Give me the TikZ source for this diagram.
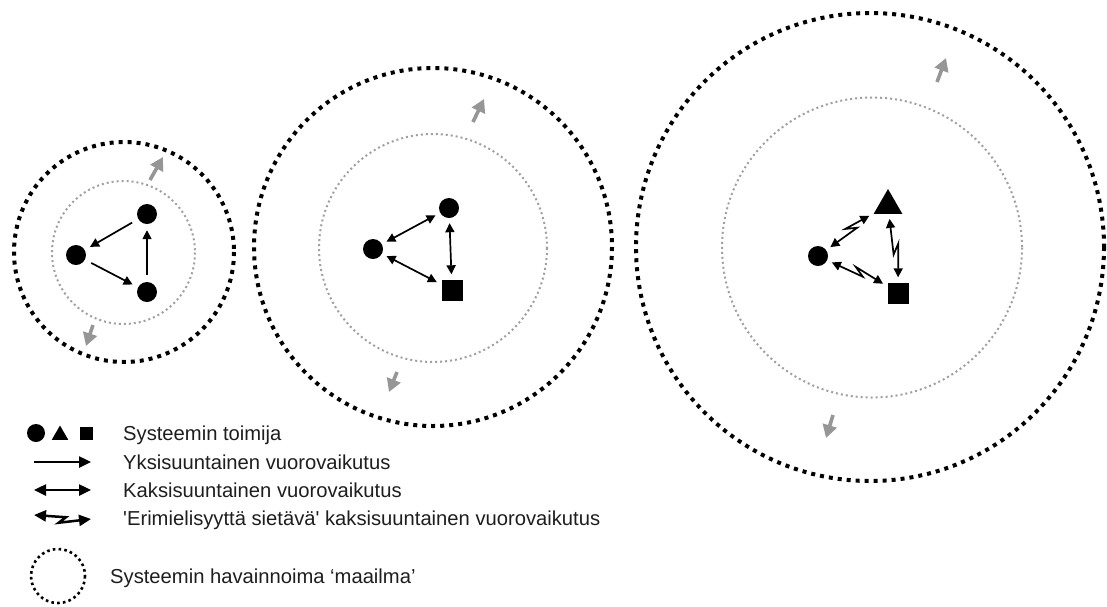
\documentclass[tikz,border=0pt]{standalone}
\usepackage{fontspec}
\setmainfont{Liberation Sans}[Ligatures=TeXOff]
\usetikzlibrary{arrows.meta,shapes.geometric,calc}
\definecolor{ringgray}{RGB}{160,160,160}
\definecolor{arrowgray}{RGB}{150,150,150}
\definecolor{textcol}{RGB}{30,30,30}
\begin{document}
\begin{tikzpicture}[x=1pt,y=-1pt,
  outerring/.style={draw=black, line width=4pt, dash pattern=on 4pt off 5pt},
  innerring/.style={draw=ringgray, line width=2pt, dash pattern=on 2pt off 3pt},
  legring/.style={draw=black, line width=2.6pt, dash pattern=on 2.6pt off 3.2pt},
  actor/.style={circle, fill=black, minimum size=20pt, inner sep=0pt},
  sqactor/.style={rectangle, fill=black, minimum size=21pt, inner sep=0pt},
  triactor/.style={regular polygon, regular polygon sides=3, fill=black, minimum size=33pt, inner sep=0pt},
  one/.style={-{Triangle[length=9pt,width=9pt]}, line width=1.7pt, shorten >=6pt, shorten <=7pt},
  two/.style={{Triangle[length=9pt,width=9pt]}-{Triangle[length=9pt,width=9pt]}, line width=1.7pt, shorten >=5pt, shorten <=5pt},
  zz/.style={to path={-- ($(\tikztostart)!0.56!(\tikztotarget)$) -- ($(\tikztostart)!0.44!(\tikztotarget)!#1!90:(\tikztotarget)$) -- (\tikztotarget) \tikztonodes}},
  growarrow/.style={draw=arrowgray, line width=3.6pt, -{Triangle[length=13pt,width=14pt,fill=arrowgray]}},
  legtext/.style={anchor=base west, text=textcol, font=\fontsize{20.2}{24}\selectfont, inner sep=0pt},
  legone/.style={-{Triangle[length=12pt,width=11pt]}, line width=2.5pt},
  legtwo/.style={{Triangle[length=12pt,width=11pt]}-{Triangle[length=12pt,width=11pt]}, line width=2.5pt}
]
\useasboundingbox (0,0) rectangle (1107,606);
\fill[white] (0,0) rectangle (1107,606);

% ---------- left system ----------
\draw[outerring] (124,252) circle[radius=110];
\draw[innerring] (123.5,252.5) circle[radius=71.5];
\node[actor] (La) at (147,214) {};
\node[actor] (Lb) at (76,255) {};
\node[actor] (Lc) at (147,292) {};
\draw[one] (La) -- (Lb);
\draw[one] (Lb) -- (Lc);
\draw[one] (Lc) -- (La);
\coordinate (Lg1s) at (150,180); \coordinate (Lg1e) at (163,157);
\coordinate (Lg2s) at (93,325);  \coordinate (Lg2e) at (86,346);
\draw[growarrow] (Lg1s) -- (Lg1e);
\draw[growarrow] (Lg2s) -- (Lg2e);

% ---------- middle system ----------
\draw[outerring] (433,247) circle[radius=179];
\draw[innerring] (433,248) circle[radius=114];
\node[actor] (Ma) at (373,249) {};
\node[actor] (Mb) at (449,208) {};
\node[sqactor] (Mc) at (452,290) {};
\draw[two] (Ma) -- (Mb);
\draw[two] (Ma) -- (Mc);
\draw[two] (Mb) -- (Mc);
\coordinate (Mg1s) at (473,122); \coordinate (Mg1e) at (484,99);
\coordinate (Mg2s) at (397,372); \coordinate (Mg2e) at (389,392);
\draw[growarrow] (Mg1s) -- (Mg1e);
\draw[growarrow] (Mg2s) -- (Mg2e);

% ---------- right system ----------
\draw[outerring] (870,247) circle[radius=234];
\draw[innerring] (872,247.5) circle[radius=150];
\node[actor] (Ra) at (818,256) {};
\node[triactor] (Rb) at (888,205.5) {};
\node[sqactor] (Rc) at (898,293) {};
\draw[two] (Ra) to[zz=6pt] (Rb);
\draw[two] (Ra) to[zz=6pt] (Rc);
\draw[two] (Rb) to[zz=6pt] (Rc);
\coordinate (Rg1s) at (937,82);  \coordinate (Rg1e) at (946,58);
\coordinate (Rg2s) at (833,415); \coordinate (Rg2e) at (826,438);
\draw[growarrow] (Rg1s) -- (Rg1e);
\draw[growarrow] (Rg2s) -- (Rg2e);

% ---------- legend ----------
\node[circle, fill=black, minimum size=18pt, inner sep=0pt] (k1) at (36,433) {};
\node[regular polygon, regular polygon sides=3, fill=black, minimum size=19pt, inner sep=0pt] (k2) at (60,435) {};
\node[rectangle, fill=black, minimum size=13pt, inner sep=0pt] (k3) at (86,433.5) {};
\node[legtext] (t1) at (123,440.5) {Systeemin toimija};

\coordinate (a1s) at (34,462); \coordinate (a1e) at (91,462);
\draw[legone] (a1s) -- (a1e);
\node[legtext] (t2) at (123,469) {Yksisuuntainen vuorovaikutus};

\coordinate (a2s) at (34,490); \coordinate (a2e) at (91,490);
\draw[legtwo] (a2s) -- (a2e);
\node[legtext] (t3) at (123,497) {Kaksisuuntainen vuorovaikutus};

\coordinate (a3s) at (34,515); \coordinate (a3e) at (91,519);
\draw[legtwo] (a3s) to[zz=-6pt] (a3e);
\node[legtext] (t4) at (123,525) {'Erimielisyyttä sietävä' kaksisuuntainen vuorovaikutus};

\draw[legring] (58,576) circle[radius=27];
\node[legtext] (t5) at (110,583) {Systeemin havainnoima ‘maailma’};
\end{tikzpicture}
\end{document}
